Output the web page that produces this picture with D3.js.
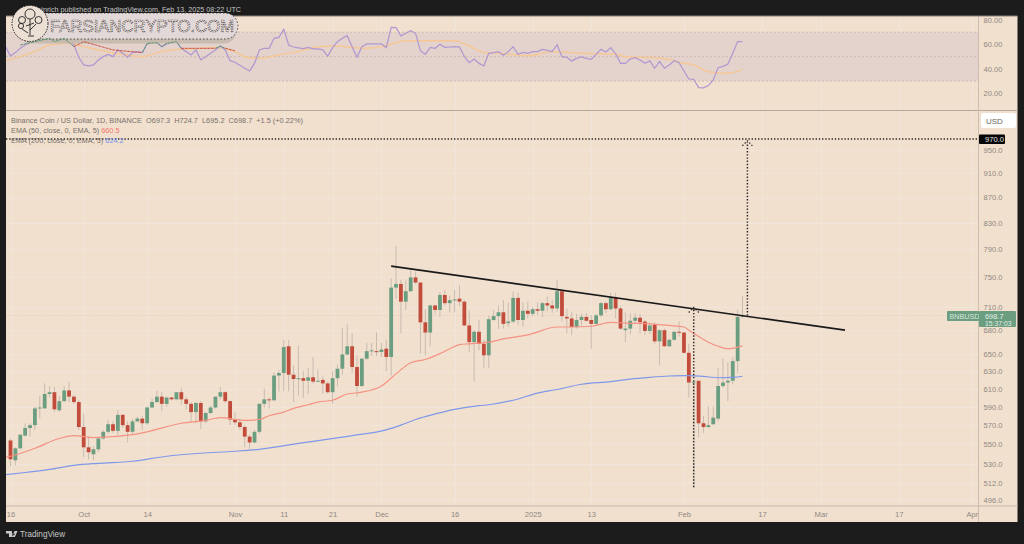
<!DOCTYPE html>
<html>
<head>
<meta charset="utf-8">
<script src="https://cdn.jsdelivr.net/npm/d3@7/dist/d3.min.js"></script>
<style>
  html, body { margin: 0; padding: 0; background: #1c1c1c; }
  svg { display: block; font-family: "Liberation Sans", Arial, sans-serif; }
  .tick text { fill: #8f8881; font-size: 7.6px; }
</style>
</head>
<body>
<svg id="chart" width="1024" height="544"></svg>
<script>
// BNB/USD daily candles, one entry per day starting 2024-09-16. Values.
const opens = [
  554,534,546,559,567,570,588,588,604,606, 586,596,608,601,595,568,547,540,545,556,
  563,571,564,581,570,563,574,577,572,589, 595,601,593,600,598,606,598,593,584,594,
  574,583,589,601,606,596,576,573,568,558, 552,563,593,598,597,625,628,660,626,621,
  622,619,623,618,620,616,606,622,633,650, 660,635,613,645,654,654,653,657,647,736,
  741,717,731,750,743,690,677,712,706,726, 715,719,721,717,686,665,678,663,649,693,
  698,703,689,691,722,693,705,701,707,705, 715,712,708,731,697,695,684,693,697,693,
  688,699,715,707,723,708,680,682,692,696, 691,679,687,666,680,660,668,678,677,652,
  617,619,572,568,571,577,613,617,619,642, 697.3
];
const highs = [
  556,547,560,572,572,590,602,616,613,612, 602,613,618,603,597,582,558,548,558,565,
  576,574,586,582,574,577,579,580,590,599, 608,606,601,601,606,611,601,595,595,596,
  584,591,601,612,607,597,584,577,570,560, 565,594,610,600,629,631,668,668,637,661,
  630,634,647,632,624,618,630,638,683,688, 676,649,645,664,664,677,664,668,749,795,
  747,746,763,758,743,707,713,713,730,733, 725,733,739,719,705,680,693,668,699,706,
  712,719,716,731,729,716,717,710,716,717, 724,719,746,733,708,703,701,701,702,699,
  701,717,717,729,729,711,703,702,702,701, 693,690,690,681,682,669,678,691,678,663,
  619,619,580,590,590,634,645,641,647,706, 724.7
];
const lows = [
  528,529,545,558,558,565,577,588,600,584, 584,595,595,593,565,537,535,534,542,555,
  561,562,560,567,552,560,573,565,570,588, 594,585,590,597,597,592,587,573,572,566,
  572,582,588,598,594,570,570,565,547,545, 551,561,589,588,596,607,607,607,595,602,
  600,604,616,618,604,604,593,613,626,649, 628,601,612,643,648,648,647,630,625,721,
  676,706,730,741,651,649,660,700,697,712, 703,703,711,685,653,618,655,634,634,692,
  682,682,684,689,686,684,695,698,700,697, 704,702,704,691,676,674,682,686,691,657,
  686,697,702,706,695,680,665,675,689,676, 674,675,663,637,659,659,667,672,651,600,
  508,557,562,567,570,574,611,596,615,628, 695.2
];
const closes = [
  535,546,560,567,570,588,589,604,606,587, 596,608,601,595,568,547,542,545,556,563,
  571,564,581,570,563,574,577,572,589,595, 601,593,600,598,606,598,593,584,594,574,
  583,589,601,606,596,576,573,568,558,552, 563,593,598,597,625,628,659,626,621,622,
  619,623,618,619,616,606,622,633,650,660, 635,613,645,654,655,653,656,647,736,741,
  717,731,750,743,690,677,712,706,726,715, 719,720,717,686,665,678,663,649,694,698,
  703,688,691,722,693,705,701,707,705,715, 712,708,731,698,695,684,693,697,692,688,
  699,715,707,723,708,682,682,692,696,690, 679,686,666,680,660,668,678,677,652,617,
  618,572,568,570,578,613,617,619,642,697, 698.7
];

// EMA 50 / EMA 200 read at these day offsets from 2024-09-16
const ema50Days = [-1,0,5,10,13,17,25,28,35,40,43,48,51,53,56,58,61,63,66,69,72,76,79,82,85,88,90,92,94,98,101,106,112,115,119,123,126,131,135,138,139,141,143,145,147,150];
const ema50Vals = [537,538,546,556,559,557,560,563,572,575,578,575,576,580,584,588,592,595,597,604,606,613,627,640,644,651,657,662,663,665,669,674,684,684,685,690,689,688,686,684,680,672,665,660,657,660.5];
const ema200Days = [-1,3,8,13,18,25,32,39,46,51,59,70,77,80,83,87,91,96,98,103,108,112,117,123,127,131,135,138,139,142,145,148,150];
const ema200Vals = [520,522,525,529,531,533,538,541,543,545,551,559,565,570,576,582,587,591,592,597,605,609,615,618,621,623,624.5,625,625,624,622.5,623,624.2];

// RSI per day, from day -1 up to the last bar
const rsiVals = [
  58.2,50.5,53.3,56.8,59.5,61.5,63.1,62.3,64.2,65,62.3, 63.6,65.5,64.2,59.5,49.5,43.2,42.4,43.2,47.3,50,
  51.9,50,55.5,52.7,49.5,53.3,54.1,53.3,60.4,61.5, 61.5,58.2,60.4,61.5,62.3,56.8,54.1,51.4,55.5,47.3,
  50,52.7,55.5,58.7,55.5,46.7,45.4,42.9,40.5,38.3, 44.5,55.5,56.8,56.8,65,65.8,72.4,59.5,57.9,57.1,
  56.5,57.6,56.3,56.3,55.5,50.5,57.4,62.3,65,67.2, 58.2,49.5,58.2,60.4,60.4,60.4,60.4,57.4,74,73.7,
  66.9,69.1,71.3,69.1,54.9,51.9,57.6,56.8,60.1,57.6, 57.9,58.2,57.9,50,45.1,48.1,44.5,42.4,52.7,53.3,
  54.1,51.1,54.1,58.2,51.9,53.5,52.7,54.1,54.1,56, 55.2,54.1,59.8,50,49.5,46.5,48.6,49.7,48.6,47.8,
  51.9,56,53.8,57.4,52.2,44.5,44.5,48.1,49.2,47.3, 44.5,46.5,40.5,45.9,40.5,43.2,46.7,45.1,38.3,31.7,
  31.5,24.6,24.4,26.3,30.9,41,42.1,44,52.7,62.3, 62.3
];
const rsiMaDays = [-1,2,5,8,12,15,18,24,27,30,33,39,42,46,48,51,55,58,61,63,67,70,73,76,79,81,86,91,94,97,100,106,111,117,124,126,132,136,137,140,143,147,150];
const rsiMaVals = [46.7,50,54.1,59.5,60.9,58.2,55.5,51.4,50,53.3,55.5,56.8,57.4,54.1,50,48.6,51.4,53.5,56.3,58.2,58.7,57.6,56.8,58.2,61.5,63.1,63.1,63.1,58.7,53.5,52.7,50.8,54.1,52.7,51.9,50,49.2,46.7,45.4,43.2,37.7,36.4,39.6];

// stretches of the RSI that show through the watermark in another colour
const traceColors = ["#4f8f68","#c9483a","#4f8f68","#c9483a","#4f8f68","#c9483a"];
const traceDays = [[2,5,8,9,11,13],[13,15,21,27],[27,28,30,31,32,34,35],[35,42],[42,43,44],[44,46]];
const traceVals = [[59.5,62.3,65,62.3,65,58.2],[58.2,62.3,55.5,53.3],[53.3,60.9,61.5,58.2,60.9,62.3,56.8],[56.8,56.8],[56.8,58.7,56.8],[56.8,54.8]];

// trend line and measured-move arrows
const trendDays = [78,171];
const trendVals = [766,680];
const targetPrice = 970;
const dropDay = 140, dropLow = 508, dropTop = 708;
const moveDay = 151, moveLow = 698.7, moveTop = 965;

const priceTicks = [950,910,870,830,790,750,710,680,650,630,610,590,570,550,530,512,496];
const rsiTicks = [80,60,40,20];
const timeTickDates = ["2024-09-16","2024-10-01","2024-10-14","2024-11-01","2024-11-11","2024-11-21","2024-12-01","2024-12-16","2025-01-01","2025-01-13","2025-02-01","2025-02-17","2025-03-01","2025-03-17","2025-04-01"];
const timeTickLabels = ["16","Oct","14","Nov","11","21","Dec","16","2025","13","Feb","17","Mar","17","Apr"];

const BG = "#f2e0cf", GREEN = "#6b9e80", RED = "#c24c3b", WICK = "#c8bbb0";
const paneL = 6, axisX = 978.5, paneR = 1017.5;
const paneT = 16, rsiBottom = 110.5, timeY = 506, paneB = 522;

const svg = d3.select("#chart");
const dayZero = Date.UTC(2024, 8, 16);
const dayDate = (i) => new Date(dayZero + i * 864e5);

const x = d3.scaleUtc().domain([dayDate(0), new Date("2025-04-01")]).range([10.5, 971.9]);
const y = d3.scaleLog().domain([970, 496]).range([139, 500]);
const yRsi = d3.scaleLinear().domain([80, 20]).range([20, 93.3]);

svg.append("rect").attr("width", 1024).attr("height", 544).attr("fill", "#1c1c1c");
svg.append("rect").attr("x", paneL).attr("y", paneT).attr("width", paneR - paneL).attr("height", paneB - paneT).attr("fill", BG);

const defs = svg.append("defs");
defs.append("clipPath").attr("id", "pane").append("rect")
  .attr("x", paneL).attr("y", paneT).attr("width", axisX - paneL).attr("height", paneB - paneT);

// grid
const grid = svg.append("g").attr("stroke", "#f0e5da").attr("stroke-width", 1);
timeTickDates.forEach((d) => {
  const gx = Math.round(x(new Date(d))) + 0.5;
  grid.append("line").attr("x1", gx).attr("x2", gx).attr("y1", paneT).attr("y2", timeY);
});
priceTicks.forEach((p) => {
  const gy = Math.round(y(p)) + 0.5;
  grid.append("line").attr("x1", paneL).attr("x2", axisX).attr("y1", gy).attr("y2", gy);
});

// RSI pane
const rsiPane = svg.append("g").attr("clip-path", "url(#pane)");
rsiPane.append("rect").attr("x", paneL).attr("width", axisX - paneL)
  .attr("y", yRsi(70)).attr("height", yRsi(30) - yRsi(70)).attr("fill", "#e4d2cd");
[70, 50, 30].forEach((v) => {
  rsiPane.append("line").attr("x1", paneL).attr("x2", axisX).attr("y1", yRsi(v)).attr("y2", yRsi(v))
    .attr("stroke", "#c4b5aa").attr("stroke-width", 0.8).attr("stroke-dasharray", "2 2");
});
const rsiLine = d3.line().x((d) => x(dayDate(d[0]))).y((d) => yRsi(d[1]));
rsiPane.append("path").datum(d3.zip(rsiMaDays, rsiMaVals))
  .attr("d", rsiLine.curve(d3.curveMonotoneX)).attr("fill", "none").attr("stroke", "#f5c896").attr("stroke-width", 1.5);
rsiPane.append("path").datum(rsiVals.map((v, i) => [i - 1, v]))
  .attr("d", rsiLine.curve(d3.curveLinear)).attr("fill", "none").attr("stroke", "#b098d0").attr("stroke-width", 1.25);

// candles
const days = d3.range(opens.length);
const pricePane = svg.append("g").attr("clip-path", "url(#pane)");
pricePane.append("line").attr("x1", paneL).attr("x2", 947).attr("y1", y(698.7)).attr("y2", y(698.7))
  .attr("stroke", "#e8d2c2").attr("stroke-dasharray", "1.5 1.5");
pricePane.selectAll("line.wick").data(days).join("line").attr("class", "wick")
  .attr("x1", (i) => x(dayDate(i))).attr("x2", (i) => x(dayDate(i)))
  .attr("y1", (i) => y(highs[i])).attr("y2", (i) => y(lows[i]))
  .attr("stroke", WICK).attr("stroke-width", 1);
pricePane.selectAll("rect.body").data(days).join("rect").attr("class", "body")
  .attr("x", (i) => x(dayDate(i)) - 1.9).attr("width", 3.8)
  .attr("y", (i) => y(Math.max(opens[i], closes[i])))
  .attr("height", (i) => Math.max(1, Math.abs(y(opens[i]) - y(closes[i]))))
  .attr("fill", (i) => closes[i] >= opens[i] ? GREEN : RED);

// EMAs
const emaLine = d3.line().x((d) => x(dayDate(d[0]))).y((d) => y(d[1])).curve(d3.curveMonotoneX);
pricePane.append("path").datum(d3.zip(ema200Days, ema200Vals)).attr("d", emaLine)
  .attr("fill", "none").attr("stroke", "#7f98ea").attr("stroke-width", 1.2);
pricePane.append("path").datum(d3.zip(ema50Days, ema50Vals)).attr("d", emaLine)
  .attr("fill", "none").attr("stroke", "#f59283").attr("stroke-width", 1.2);

// trend line
pricePane.append("line")
  .attr("x1", x(dayDate(trendDays[0]))).attr("x2", x(dayDate(trendDays[1])))
  .attr("y1", y(trendVals[0])).attr("y2", y(trendVals[1]))
  .attr("stroke", "#1a1a1a").attr("stroke-width", 1.7);

// measured move: dotted target line and two dotted arrows
const DOT = "#2c2826";
pricePane.append("line").attr("x1", paneL).attr("x2", axisX).attr("y1", y(targetPrice)).attr("y2", y(targetPrice))
  .attr("stroke", DOT).attr("stroke-width", 1.3).attr("stroke-dasharray", "1.4 1.8");
function dottedArrow(day, lo, hi) {
  const ax = x(dayDate(day));
  const yLo = y(lo), yHi = y(hi);
  pricePane.append("line").attr("x1", ax).attr("x2", ax).attr("y1", yLo).attr("y2", yHi)
    .attr("stroke", DOT).attr("stroke-width", 1.5).attr("stroke-dasharray", "1.4 1.8");
  pricePane.append("path").attr("d", `M${ax - 5},${yHi + 4}L${ax},${yHi - 1}L${ax + 5},${yHi + 4}`)
    .attr("fill", "none").attr("stroke", DOT).attr("stroke-width", 1.2).attr("stroke-dasharray", "1.4 1.8");
}
dottedArrow(dropDay, dropLow, dropTop);
dottedArrow(moveDay, moveLow, moveTop);

// frames
const frame = svg.append("g").attr("stroke", "#b5a89c").attr("stroke-width", 1);
frame.append("line").attr("x1", paneL).attr("x2", paneR).attr("y1", rsiBottom).attr("y2", rsiBottom);
frame.append("line").attr("x1", paneL).attr("x2", paneR).attr("y1", timeY).attr("y2", timeY).attr("stroke", "#c4b7ab");
frame.append("line").attr("x1", axisX).attr("x2", axisX).attr("y1", paneT).attr("y2", paneB).attr("stroke", "#cbbdb0");
frame.append("line").attr("x1", paneL).attr("x2", paneR).attr("y1", paneT).attr("y2", paneT).attr("stroke", "#8a8076");

// axes
const priceAxis = d3.axisRight(y).tickValues(priceTicks).tickFormat(d3.format(".1f")).tickSize(0).tickPadding(5);
svg.append("g").attr("transform", `translate(${axisX},0)`).call(priceAxis).call((g) => g.select(".domain").remove());
const rsiAxis = d3.axisRight(yRsi).tickValues(rsiTicks).tickFormat(d3.format(".2f")).tickSize(0).tickPadding(5);
svg.append("g").attr("transform", `translate(${axisX},0)`).call(rsiAxis).call((g) => g.select(".domain").remove());
const timeAxis = d3.axisBottom(x).tickValues(timeTickDates.map((d) => new Date(d)))
  .tickFormat((d, i) => timeTickLabels[i]).tickSize(0).tickPadding(6);
svg.append("g").attr("transform", `translate(0,${timeY})`).call(timeAxis).call((g) => g.select(".domain").remove());
svg.selectAll(".tick text").attr("font-family", "Liberation Sans");

// legend
const legend = svg.append("g").attr("font-size", 7.35).attr("fill", "#77706a");
legend.append("text").attr("x", 11).attr("y", 122.5).attr("xml:space", "preserve")
  .text("Binance Coin / US Dollar, 1D, BINANCE  O697.3  H724.7  L695.2  C698.7  +1.5 (+0.22%)");
const ema50Text = legend.append("text").attr("x", 11).attr("y", 133);
ema50Text.append("tspan").text("EMA (50, close, 0, EMA, 5)  ");
ema50Text.append("tspan").attr("fill", "#f2766a").text("660.5");
const ema200Text = legend.append("text").attr("x", 11).attr("y", 143);
ema200Text.append("tspan").text("EMA (200, close, 0, EMA, 5)  ");
ema200Text.append("tspan").attr("fill", "#6f8fe8").text("624.2");

// price badges
svg.append("rect").attr("x", 981).attr("y", 113).attr("width", 35).attr("height", 15).attr("rx", 2).attr("fill", "#fff");
svg.append("text").attr("x", 986).attr("y", 123.5).attr("font-size", 8).attr("fill", "#6a5f60").text("USD");
svg.append("rect").attr("x", 979).attr("y", 134.5).attr("width", 26).attr("height", 9.5).attr("rx", 1).attr("fill", "#050505");
svg.append("text").attr("x", 985).attr("y", 142).attr("font-size", 7.6).attr("fill", "#e8e8e8").text("970.0");
svg.append("rect").attr("x", 947).attr("y", 311).attr("width", 32).attr("height", 10).attr("rx", 1).attr("fill", GREEN);
svg.append("text").attr("x", 949.5).attr("y", 318.8).attr("font-size", 7.2).attr("fill", "#d5e4da").text("BNBUSD");
svg.append("rect").attr("x", 979).attr("y", 311).attr("width", 37).attr("height", 16).attr("rx", 1).attr("fill", GREEN);
svg.append("text").attr("x", 985).attr("y", 318.8).attr("font-size", 7.4).attr("fill", "#e3eee7").text("698.7");
svg.append("text").attr("x", 985).attr("y", 326).attr("font-size", 6.8).attr("fill", "#e3eee7").text("15:37:03");

// header + footer (the middle of the user name is hidden by the watermark)
svg.append("text").attr("x", 241).attr("y", 11.5).attr("text-anchor", "end").attr("font-size", 7.2).attr("fill", "#c4c4c4")
  .text("bitcoinrich published on TradingView.com, Feb 13, 2025 08:22 UTC");
const foot = svg.append("g").attr("fill", "#c8c8c8");
foot.append("path").attr("d", "M6,531h6v6h-3v-3.4h-3zM13.5,533a1.1,1.1 0 1 0 0.01,0zM14.5,531h3l-2.6,6h-3z");
foot.append("text").attr("x", 20).attr("y", 537).attr("font-size", 8.2).attr("font-weight", 500).text("TradingView");

// site watermark over the top left corner
const mark = svg.append("g");
mark.append("rect").attr("x", 20).attr("y", 17).attr("width", 216).attr("height", 26.5).attr("rx", 12).attr("fill", "#c8bcb0");
mark.append("rect").attr("x", 14).attr("y", 13).attr("width", 224).attr("height", 26).attr("rx", 13)
  .attr("fill", "#e3d8d8").attr("stroke", "#2a2a2a").attr("stroke-width", 0.8).attr("stroke-dasharray", "1.5 2");
mark.append("text").attr("x", 50).attr("y", 31.5).attr("font-size", 16.6).attr("letter-spacing", 0.08)
  .attr("fill", "#e9e2e0").attr("stroke", "#3b3533").attr("stroke-width", 0.7).attr("stroke-dasharray", "1.4 0.9")
  .text("FARSIANCRYPTO.COM");
mark.append("circle").attr("cx", 30).attr("cy", 23.5).attr("r", 18)
  .attr("fill", "#ecdfd3").attr("stroke", "#1a1a1a").attr("stroke-width", 1).attr("stroke-dasharray", "1.5 1.2");
const icon = mark.append("g").attr("fill", "none").attr("stroke", "#222").attr("stroke-width", 0.9);
[[30, 14, 5], [22, 20, 3.5], [38.5, 20, 3.5], [21, 26, 2.6]].forEach(([cx, cy, r]) => {
  icon.append("circle").attr("cx", cx).attr("cy", cy).attr("r", r);
});
icon.append("path").attr("d", "M30,19V35M26,26L34,23M36,24L30,30M22,29L28,33M28,36h6");

// RSI colour stretches drawn on the watermark
traceColors.forEach((c, k) => {
  svg.append("path").datum(d3.zip(traceDays[k], traceVals[k]))
    .attr("d", d3.line().x((d) => x(dayDate(d[0]))).y((d) => yRsi(d[1])))
    .attr("fill", "none").attr("stroke", c).attr("stroke-width", 0.9).attr("stroke-dasharray", "3 0.7");
});
</script>
</body>
</html>
